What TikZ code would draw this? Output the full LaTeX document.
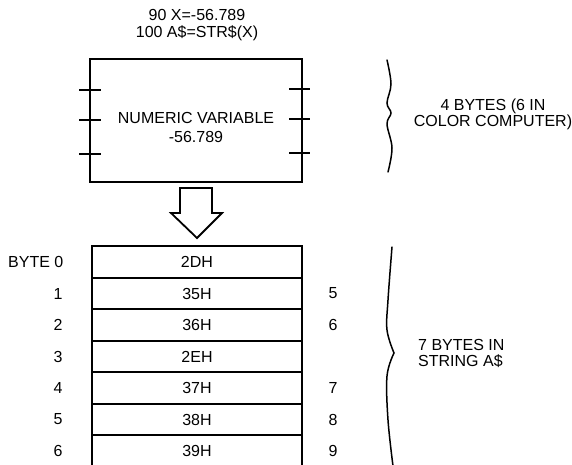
\documentclass[tikz,border=0pt]{standalone}
\usepackage{fontspec}
\setmainfont{Liberation Sans}
\begin{document}
\begin{tikzpicture}[x=1pt,y=-1pt,
  font=\fontsize{16}{16.5}\selectfont,
  cell/.style={draw, minimum width=210pt, minimum height=31.5pt, inner sep=0pt, line width=2pt},
  lbl/.style={inner sep=0pt},
  tickline/.style={line width=2pt},
  bracel/.style={line width=1.5pt, line cap=round},
  boxline/.style={draw, line width=2.1pt}]
\useasboundingbox (0,0) rectangle (572,464);
\clip (0,0) rectangle (572,464);

% program lines
\node[lbl, align=center] (code) at (197,25) {90 X=-56.789\\100 A\$=STR\$(X)};

% numeric variable box
\node[boxline, minimum width=212pt, minimum height=123pt, inner sep=0pt] (num) at (196,120.5) {};
\node[lbl, align=center, font=\fontsize{16}{19}\selectfont] (numtxt) at (196,127.5) {NUMERIC VARIABLE\\-56.789};
\foreach \y in {90,120,154} \draw[tickline] (79,\y) -- (101,\y);
\foreach \y in {89,119,153} \draw[tickline] (289,\y) -- (310,\y);

% hollow arrow
\draw[line width=1.8pt, line join=miter] (180,188) -- (212,188) -- (212,213) -- (222,213) -- (197,238) -- (171,213) -- (180,213) -- cycle;

% string cells
\node[cell] (c0) at (197,262) {2DH};
\node[cell] (c1) at (197,293.5) {35H};
\node[cell] (c2) at (197,325) {36H};
\node[cell] (c3) at (197,356.5) {2EH};
\node[cell] (c4) at (197,388) {37H};
\node[cell] (c5) at (197,419.5) {38H};
\node[cell] (c6) at (197,451) {39H};

% byte numbers
\node[lbl, anchor=east] (b0) at (63.5,262) {BYTE 0};
\node[lbl] (b1) at (58,293.5) {1};
\node[lbl] (b2) at (58,325) {2};
\node[lbl] (b3) at (58,356.5) {3};
\node[lbl] (b4) at (58,388) {4};
\node[lbl] (b5) at (58,419.5) {5};
\node[lbl] (b6) at (58,451) {6};

% ascii digits
\node[lbl] (d1) at (333,293.5) {5};
\node[lbl] (d2) at (333,325) {6};
\node[lbl] (d4) at (333,388) {7};
\node[lbl] (d5) at (333,419.5) {8};
\node[lbl] (d6) at (333,451) {9};

% braces
\draw[bracel] plot[smooth, tension=0.6] coordinates {(387,60) (391,84) (387,103) (391,113) (387,124) (392,148) (388,172)};
\draw[bracel] plot[smooth, tension=0.6] coordinates {(392,247) (388,300) (387,330) (394,353)};
\draw[bracel] plot[smooth, tension=0.6] coordinates {(394,353) (387,376) (388,420) (393,466)};

\node[lbl, align=center] (t1) at (493,114.5) {4 BYTES (6 IN\\COLOR COMPUTER)};
\node[lbl, align=left, anchor=west] (t2) at (418,353.5) {7 BYTES IN\\STRING A\$};
\end{tikzpicture}
\end{document}
